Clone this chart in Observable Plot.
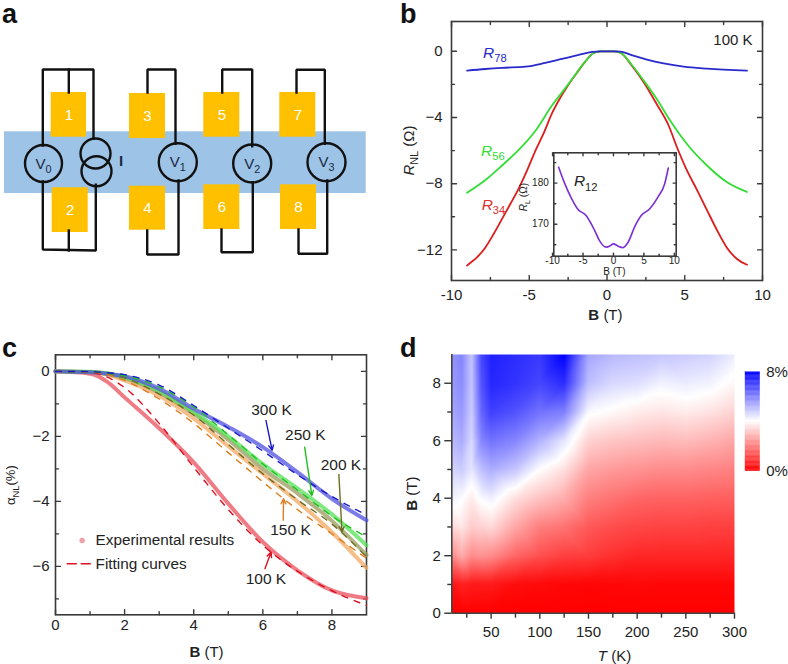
<!DOCTYPE html>
<html><head><meta charset="utf-8">
<script src="https://cdn.jsdelivr.net/npm/d3@7"></script>
<script src="https://cdn.jsdelivr.net/npm/@observablehq/plot@0.6"></script>
<style>
html,body{margin:0;padding:0;background:#fff}
#page{position:relative;width:788px;height:664px;overflow:hidden;font-family:"Liberation Sans",Arial,sans-serif}
#page svg{position:absolute;overflow:visible}
.letter{position:absolute;font-weight:bold;font-size:27px;line-height:27px;color:#111}
</style></head><body><div id="page"></div>
<script>
// ---------- panel a: device schematic (native picture units) ----------
const bandExtent = [[4,131.3],[365.7,193]];
const padLabels = ["1","2","3","4","5","6","7","8"];
const padX1 = [50.7,51.7,129,129,203.3,203.3,279.3,280];
const padX2 = [86,87.7,165,165,239.3,239.3,315.3,316];
const padY1 = [92,187.3,93,185.7,92,184.3,92,184.3];
const padY2 = [136.7,232,138,229.7,136.7,229,136.7,229];
const wires = [
 [[42.3,145],[42.3,69],[93,69],[93,138.3]],[[68.3,69],[68.3,92]],
 [[42.3,181],[42.3,249],[95.3,250],[95.3,184.3]],[[68.3,230],[68.3,250]],
 [[147,92],[147,69],[175,69],[175,143.3]],[[178,180],[178,254],[146.7,254],[146.7,230]],
 [[221.7,92],[221.7,69],[251.7,69],[251.7,145.7]],[[252.3,181.7],[252.3,251.7],[221,251.7],[221,229]],
 [[296,92],[296,69.3],[324.3,69.3],[324.3,143.3]],[[326.7,180],[326.7,253.3],[298,253.3],[298,229]]
];
const ringX = [43,95,96,177.3,251.7,326];
const ringY = [163,153,170.7,161.7,163,161.7];
const ringR = [18.5,15,15,19,19,19];
const meterNames = ["V_0_","V_1_","V_2_","V_3_","^I^"];
const meterX = [43,177.3,251.7,326,120.5];
const meterY = [163.5,161.5,163.5,161.5,161];

// ---------- panel b: non-local resistance at 100 K ----------
const r34B = [-9,-8.94,-8.36,-7.82,-7.29,-6.75,-6.2,-5.68,-5.14,-4.6,-4.07,-3.54,-3,-2.47,-1.93,-1.4,-.86,-.43,0,.43,.86,1.6,2.36,3.2,3.97,4.5,5.14,5.8,6.43,7.07,7.7,8.36,9];
const r34R = [-12.95,-12.9,-12.45,-11.85,-11.04,-10.13,-9.2,-8.3,-7.2,-6,-4.95,-3.75,-2.8,-2,-1.3,-.62,-.1,0,0,0,-.08,-.87,-1.87,-3.2,-4.5,-5.8,-7.2,-8.4,-9.6,-10.8,-11.85,-12.55,-12.9];
const r56B = [-9,-7.82,-6.75,-5.68,-4.6,-3.54,-2.47,-1.4,-.86,-.43,0,.43,.86,1.6,2.36,3.2,4.07,5.14,6.43,7.7,9];
const r56R = [-8.55,-7.78,-6.9,-5.96,-4.8,-3.28,-1.97,-.62,-.1,0,0,0,-.08,-.83,-1.77,-2.88,-4.2,-5.6,-6.9,-7.9,-8.5];
const r78B = [-9,-7.82,-6.75,-5.25,-3.97,-2.9,-1.82,-.96,-.43,0,.43,.86,1.7,2.57,3.64,4.93,6.43,9];
const r78R = [-1.17,-1.07,-1,-.93,-.7,-.46,-.22,-.04,0,0,0,-.02,-.26,-.5,-.73,-.93,-1.05,-1.17];
const r12B = [-9,-8.08,-7,-5.88,-4.5,-3.1,-2.3,-1.2,-.66,0,.7,1.54,2.4,3.46,4.56,5.93,7.3,8.4,9];
const r12R = [183.9,180.2,176.6,173.7,172.1,168.5,166,164.4,164.6,165.2,164.7,164.3,165.6,169.3,172.1,173.7,176.6,179.8,183.7];

// ---------- panel c: alpha_NL against B ----------
const cB = [0,1,1.5,2,3,4,5,6,7,8,9];
const exp100 = [0,-.07,-.32,-.8,-1.75,-2.8,-4.07,-5.25,-6.12,-6.74,-6.98];
const fit100 = [0,-.03,-.18,-.5,-1.6,-2.95,-4.25,-5.35,-6.15,-6.75,-7.2];
const exp150 = [0,-.02,-.1,-.28,-.75,-1.45,-2.3,-3.15,-4,-4.95,-6.05];
const fit150 = [0,-.02,-.1,-.28,-.85,-1.6,-2.5,-3.4,-4.25,-5,-5.75];
const exp200 = [0,-.02,-.08,-.2,-.65,-1.3,-2.1,-3,-3.75,-4.6,-5.65];
const fit200 = [0,-.01,-.06,-.2,-.7,-1.35,-2.25,-3.15,-3.95,-4.7,-5.7];
const exp250 = [0,-.01,-.06,-.18,-.6,-1.25,-2,-2.85,-3.6,-4.4,-5.35];
const fit250 = [0,-.01,-.05,-.13,-.48,-1.1,-1.95,-2.85,-3.65,-4.45,-5.1];
const exp300 = [0,-.03,-.07,-.15,-.53,-1.15,-1.71,-2.33,-3.1,-3.92,-4.58];
const fit300 = [0,-.01,-.04,-.1,-.42,-1.05,-1.75,-2.45,-3.18,-3.85,-4.42];
const tempNames = ["100 K","150 K","200 K","250 K","300 K"];
const expColors = ["#ea4f5c","#f3a860","#9a9a5c","#55e055","#5050e0"];
const fitColors = ["#dc1020","#dd7d1e","#6e6e22","#1fc01f","#1a1ac8"];
const labelX = [6.09,6.8,8.26,7.23,6.25];
const labelY = [-6.4,-4.87,-2.89,-1.97,-1.18];
const arrowX1 = [6.06,6.59,8.2,7.21,6.09];
const arrowY1 = [-6.07,-4.58,-3.17,-2.33,-1.51];
const arrowX2 = [6.24,6.6,8.29,7.42,6.27];
const arrowY2 = [-5.56,-3.92,-4.94,-3.82,-2.43];

// ---------- panel d: map of alpha_NL (columns at T, rows at B = 0..9) ----------
const mapB = [0,1,2,3,4,5,6,7,8,9];
const mapT = [10,20,30,40,50,75,100,125,150,175,200,225,250,275,300];
const mapV = [
 [0,.3,2.2,3.4,4.2,4.7,5.1,5.4,5.6,5.7],
 [0,.5,2.7,3.6,4.05,4.8,5.3,5.6,5.8,5.9],
 [0,.4,2.2,3.2,3.7,4.4,4.6,4.8,4.9,4.9],
 [0,.4,2.3,3.3,4.1,5,5.9,6.4,6.7,6.9],
 [0,.4,2.2,3.4,4.25,5.3,6.2,7,7.4,7.5],
 [0,.2,1.6,2.6,3.5,4.9,5.9,6.7,7.2,7.3],
 [0,.15,1.25,2,3.05,4,5.2,6.2,6.9,7.1],
 [0,.1,1,1.8,2.7,3.5,4.4,6,7.3,8],
 [0,.08,.95,1.4,2,2.6,3.3,4.1,5,5.4],
 [0,.1,.75,1.2,1.8,2.4,3.1,3.9,4.6,5.1],
 [0,.12,.6,1.1,1.6,2.3,3,3.7,4.5,5],
 [0,.1,.6,1.05,1.55,2.2,2.9,3.6,4.2,4.9],
 [0,.1,.6,1.05,1.55,2.2,2.95,3.7,4.3,4.8],
 [0,.1,.6,1,1.5,2.1,2.8,3.55,4.2,4.7],
 [0,.1,.6,1,1.5,2,2.6,3.3,3.85,4.3]
];
const mapLegendLabels = ["0%","8%"];

// ---------- shared helpers ----------
const page = document.getElementById("page");
const ink = "#222", frameInk = "#3a3a3a";
const mapColor = {type:"linear",domain:[0,4,8],range:["#ff0000","#ffffff","#0000ff"]};
const minus = d => String(d).replace("-","\u2212");
const zip = (xs,ys,extra={}) => xs.map((x,i)=>({x,y:ys[i],...extra}));

function rich(svg){
  svg.querySelectorAll("text").forEach(t=>{
    const s=t.textContent;
    if(!/[*_^]/.test(s)) return;
    t.textContent="";
    let pending=0;
    s.split(/(\*[^*]+\*|_[^_]+_|\^[^^]+\^)/).filter(Boolean).forEach(p=>{
      const ts=document.createElementNS("http://www.w3.org/2000/svg","tspan");
      const m=p[0], inner=p.slice(1,-1);
      if(pending) {ts.setAttribute("dy",pending+"px");pending=0;}
      if(m==="*"&&p.length>2){ts.setAttribute("font-style","italic");ts.textContent=inner;}
      else if(m==="^"&&p.length>2){ts.setAttribute("font-weight","bold");ts.textContent=inner;}
      else if(m==="_"&&p.length>2){
        const fs=parseFloat(getComputedStyle(t).fontSize)||15;
        ts.setAttribute("font-size",(fs*.72)+"px");
        ts.setAttribute("dy",(fs*.3)+"px");
        pending=-fs*.3;ts.textContent=inner;
      } else ts.textContent=p;
      t.appendChild(ts);
    });
  });
}
function place(opts,left,top){
  const svg=Plot.plot({style:{background:"transparent",fontFamily:'"Liberation Sans",Arial,sans-serif',fontSize:"15px",color:ink},...opts});
  svg.style.left=left+"px";svg.style.top=top+"px";
  page.appendChild(svg);
  rich(svg);
  return svg;
}
// Inward tick shape for Plot.vector: a plain stroke of the given length.
const tickShape={draw(c,l){c.moveTo(0,0);c.lineTo(0,-l);}};
function inward(values,channel,frameAnchor,rotate,length){
  return Plot.vector(values,{[channel]:d=>d,frameAnchor,rotate,length,anchor:"start",shape:tickShape,stroke:frameInk,strokeWidth:1.4});
}
function innerTicks(xMajor,xMinor,yMajor,yMinor,{size=5,minorSize=3,xPad=9,yPad=9,xFormat=String,yFormat=minus,fontSize=15}={}){
  return [
    Plot.axisX({anchor:"bottom",ticks:xMajor,tickSize:0,tickPadding:xPad,tickFormat:xFormat,label:null,fontSize}),
    Plot.axisY({anchor:"left",ticks:yMajor,tickSize:0,tickPadding:yPad,tickFormat:yFormat,label:null,fontSize}),
    inward(xMajor,"x","bottom",0,size), inward(xMajor,"x","top",180,size),
    inward(xMinor,"x","bottom",0,minorSize), inward(xMinor,"x","top",180,minorSize),
    inward(yMajor,"y","left",90,size), inward(yMajor,"y","right",-90,size),
    inward(yMinor,"y","left",90,minorSize), inward(yMinor,"y","right",-90,minorSize),
    Plot.frame({stroke:frameInk,strokeWidth:1.6})
  ];
}
const note=(txt,x,y,opt={})=>Plot.text([{t:txt,x,y}],{x:"x",y:"y",text:"t",fill:ink,fontSize:15,...opt});

// ---------- panel a ----------
{
  const pads=padLabels.map((t,i)=>({t,x1:padX1[i],x2:padX2[i],y1:padY1[i],y2:padY2[i]}));
  const wireRows=wires.flatMap((w,k)=>w.map(([x,y])=>({x,y,k})));
  const rings=ringX.map((x,i)=>({x,y:ringY[i],r:ringR[i]}));
  const meters=meterNames.map((t,i)=>({t,x:meterX[i],y:meterY[i]}));
  place({width:394,height:290,margin:0,x:{domain:[0,394],axis:null},y:{domain:[290,0],axis:null},r:{type:"identity"},
    marks:[
      Plot.rect([bandExtent],{x1:d=>d[0][0],x2:d=>d[1][0],y1:d=>d[0][1],y2:d=>d[1][1],fill:"#9dc3e6"}),
      Plot.rect(pads,{x1:"x1",x2:"x2",y1:"y1",y2:"y2",fill:"#ffc000"}),
      Plot.line(wireRows,{x:"x",y:"y",z:"k",stroke:"#111",strokeWidth:2.4,strokeLinejoin:"miter",strokeLinecap:"square"}),
      Plot.dot(rings,{x:"x",y:"y",r:"r",stroke:"#111",strokeWidth:2.4,fill:"none"}),
      Plot.text(pads,{x:d=>(d.x1+d.x2)/2,y:d=>(d.y1+d.y2)/2,text:"t",fill:"#fff",fontSize:15}),
      Plot.text(meters,{x:"x",y:"y",text:"t",fill:"#1a2a44",fontSize:15})
    ]},0,0);
}

// ---------- panel b ----------
{
  const rows=[...zip(r34B,r34R,{s:"R34"}),...zip(r56B,r56R,{s:"R56"}),...zip(r78B,r78R,{s:"R78"})];
  const stroke={R34:"#dd1c1c",R56:"#33dd33",R78:"#2a2acc"};
  place({width:394,height:320,marginLeft:57,marginRight:26,marginTop:21,marginBottom:40,
    x:{domain:[-10,10],axis:null},y:{domain:[-13.85,1.8],axis:null},
    marks:[
      ...innerTicks([-10,-5,0,5,10],[-7.5,-2.5,2.5,7.5],[0,-4,-8,-12],[-2,-6,-10]),
      ...["R34","R56","R78"].map(s=>Plot.line(rows.filter(d=>d.s===s),{x:"x",y:"y",stroke:stroke[s],strokeWidth:1.8,curve:"monotone-x"})),
      note("100 K",8.1,.7),
      note("*R*_78_",-7.97,-.08,{fill:"#2a2acc",textAnchor:"start",fontSize:15.5}),
      note("*R*_56_",-8.1,-6,{fill:"#33dd33",textAnchor:"start",fontSize:15.5}),
      note("*R*_34_",-8.06,-9.26,{fill:"#e03030",textAnchor:"start",fontSize:15.5}),
      note("^B^ (T)",-.1,-15.97),
      note("*R*_NL_ (\u03a9)",-12.75,-6,{rotate:-90})
    ]},394,0);
  // inset
  place({width:175,height:135,marginLeft:38.3,marginRight:14.3,marginTop:7.3,marginBottom:24.3,
    x:{domain:[-9.8,10.3],axis:null},y:{domain:[162.2,187.4],axis:null},
    marks:[
      ...innerTicks([-10,-5,0,5,10],[-7.5,-2.5,2.5,7.5],[170,180],[165,175,185],{size:3,minorSize:2,xPad:1,yPad:5,yFormat:String,fontSize:10}),
      Plot.line(zip(r12B,r12R),{x:"x",y:"y",stroke:"#7a2fd6",strokeWidth:1.6,curve:"monotone-x"}),
      note("*R*_12_",-6.5,180.4,{textAnchor:"start",fontSize:15.5}),
      note("B (T)",.15,158.5,{fontSize:10}),
      note("*R*_L_ (\u03a9)",-14.8,176.6,{rotate:-90,fontSize:10})
    ]},515,145);
}

// ---------- panel c ----------
{
  const exps=[exp100,exp150,exp200,exp250,exp300], fits=[fit100,fit150,fit200,fit250,fit300];
  const labels=tempNames.map((t,i)=>({t,x:labelX[i],y:labelY[i]}));
  const arrows=tempNames.map((t,i)=>({x1:arrowX1[i],y1:arrowY1[i],x2:arrowX2[i],y2:arrowY2[i],c:fitColors[i]}));
  place({width:394,height:334,marginLeft:55,marginRight:28,marginTop:24.3,marginBottom:49.7,
    x:{domain:[0,9],axis:null},y:{domain:[-7.49,.51],axis:null},
    marks:[
      ...innerTicks([0,2,4,6,8],[1,3,5,7],[0,-2,-4,-6],[-1,-3,-5,-7],{xPad:5,yPad:6}),
      ...exps.map((v,i)=>Plot.line(zip(cB,v),{x:"x",y:"y",stroke:expColors[i],strokeWidth:4,strokeOpacity:.75,curve:"monotone-x"})),
      ...fits.map((v,i)=>Plot.line(zip(cB,v),{x:"x",y:"y",stroke:fitColors[i],strokeWidth:1.4,strokeDasharray:"6,7",curve:"monotone-x"})),
      Plot.arrow(arrows,{x1:"x1",y1:"y1",x2:"x2",y2:"y2",stroke:"c",strokeWidth:1.4,headLength:6,headAngle:50}),
      Plot.text(labels,{x:"x",y:"y",text:"t",fill:ink,fontSize:15.5}),
      Plot.dot([{x:.77,y:-5.2}],{x:"x",y:"y",r:2,fill:"#f2a0a8",stroke:"#f2a0a8"}),
      Plot.line([{x:.34,y:-5.92},{x:1.03,y:-5.92}],{x:"x",y:"y",stroke:"#e01020",strokeWidth:1.5,strokeDasharray:"9,5"}),
      note("Experimental results",1.16,-5.2,{textAnchor:"start",fontSize:15.3}),
      note("Fitting curves",1.16,-5.92,{textAnchor:"start",fontSize:15.3}),
      note("^B^ (T)",4.37,-8.65),
      note("\u03b1_NL_(%)",-1.28,-3.5,{rotate:-90,fontSize:13})
    ]},0,330);
}

// ---------- panel d ----------
{
  const cells=mapT.flatMap((T,i)=>mapB.map((B,j)=>({T,B,v:mapV[i][j]})));
  const o={stroke:"#333",strokeWidth:1.4};
  place({width:394,height:334,marginLeft:57.3,marginRight:54,marginTop:24,marginBottom:51.3,
    x:{domain:[9.6,300],axis:null},y:{domain:[0,9],axis:null},color:mapColor,
    marks:[
      Plot.raster(cells,{x:"T",y:"B",fill:"v",interpolate:"barycentric",pixelSize:1,x1:9.6,x2:300,y1:0,y2:9}),
      Plot.ruleX([9.6],{stroke:"#444",strokeWidth:1.6}),
      Plot.ruleY([0],{stroke:"#444",strokeWidth:1.6}),
      Plot.axisX({ticks:[50,100,150,200,250,300],tickSize:6,tickPadding:7,label:null,tickFormat:String,...o}),
      Plot.axisX({ticks:[25,75,125,175,225,275],tickSize:5,fill:"none",label:null,...o}),
      Plot.axisY({ticks:[0,2,4,6,8],tickSize:7,tickPadding:4,label:null,tickFormat:String,...o}),
      Plot.axisY({ticks:[1,3,5,7],tickSize:4,fill:"none",label:null,...o}),
      note("*T* (K)",176.7,-1.5),
      note("^B^ (T)",-30.6,4.16,{rotate:-90})
    ]},394,330);
  // colour bar
  const ramp=d3.range(0,8,.1);
  place({width:53,height:120,marginLeft:10,marginRight:28.3,marginTop:11.7,marginBottom:9.3,
    y:{domain:[0,8],axis:null},color:mapColor,
    marks:[
      Plot.rectY(ramp,{y1:d=>d,y2:d=>d+.1,fill:d=>d,stroke:d=>d,strokeWidth:.3}),
      Plot.axisY({anchor:"right",ticks:[0,8],tickSize:0,tickPadding:6,label:null,tickFormat:d=>mapLegendLabels[d/8],stroke:"none"})
    ]},735,360);
}

// ---------- panel letters ----------
[["a",2,1],["b",400,1],["c",2,335],["d",400,335]].forEach(([t,l,tp])=>{
  const el=document.createElement("div");el.className="letter";el.textContent=t;
  el.style.left=l+"px";el.style.top=tp+"px";page.appendChild(el);
});
</script></body></html>
